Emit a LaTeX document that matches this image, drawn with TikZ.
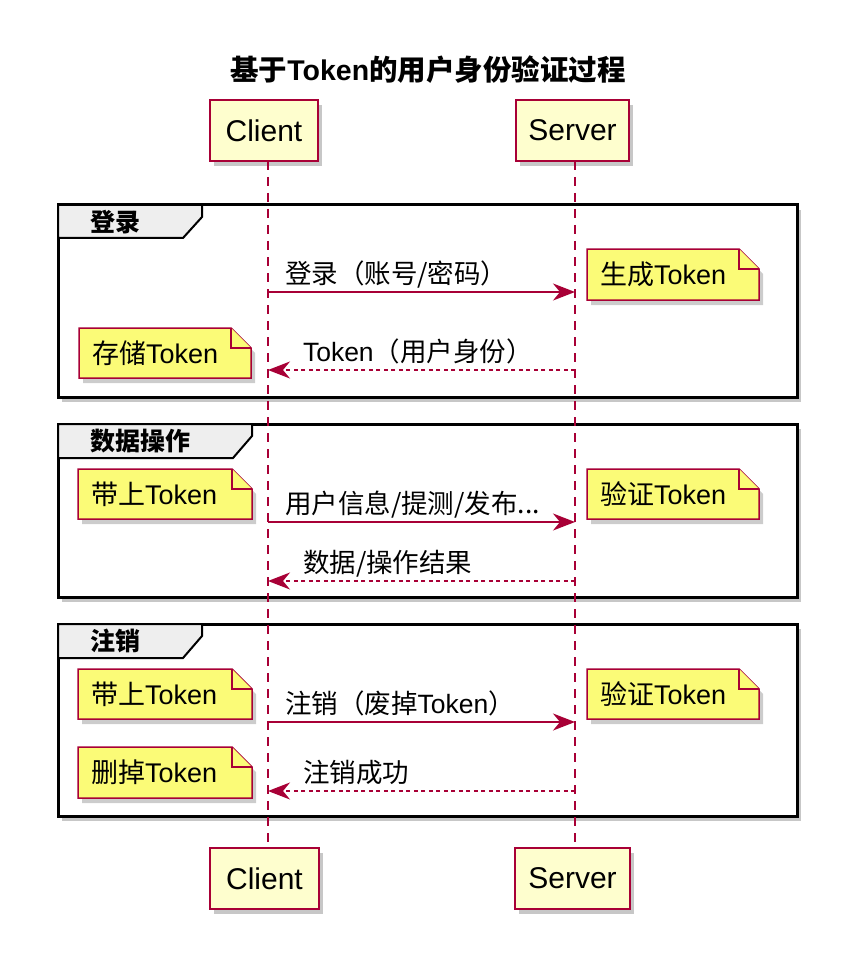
\documentclass[tikz,border=0pt]{standalone}
\usepackage{fontspec}
\setmainfont{Liberation Sans}
\newfontfamily\cjk{Noto Sans CJK SC}
\usetikzlibrary{arrows.meta,shadows}
\definecolor{umlred}{HTML}{A80036}
\definecolor{partfill}{HTML}{FEFECE}
\definecolor{notefill}{HTML}{FBFB77}
\definecolor{tabfill}{HTML}{EEEEEE}
\tikzset{
  softshadow/.style={drop shadow={shadow xshift=4pt, shadow yshift=-5pt, fill=black, opacity=0.22}},
  partbox/.style={draw=umlred, line width=1.6pt, fill=partfill, minimum height=61pt,
    font=\fontsize{30}{35}\selectfont, softshadow},
  lifeline/.style={draw=umlred, line width=1.5pt, dash pattern=on 9pt off 7pt},
  msg/.style={draw=umlred, line width=1.6pt, -{Stealth[length=22pt,width=17pt,inset=7pt]}},
  ret/.style={msg, dash pattern=on 4pt off 3.5pt},
  msglabel/.style={anchor=base west, font=\fontsize{26.5}{31}\selectfont},
  groupframe/.style={draw=black, line width=3pt, fill=white, softshadow},
  grouptab/.style={draw=black, line width=2pt, fill=tabfill},
  tablabel/.style={anchor=west, font=\fontsize{25}{30}\selectfont\bfseries},
  notebody/.style={draw=umlred, line width=1.5pt, fill=notefill},
  notetext/.style={anchor=west, font=\fontsize{27}{32}\selectfont},
}
\newcommand\notebox[6]{%
  \fill[black, opacity=0.2] (#2+4,#3+5) -- (#4-16,#3+5) -- (#4+4,#3+25) -- (#4+4,#5+5) -- (#2+4,#5+5) -- cycle;
  \filldraw[notebody] (#2,#3) -- (#4-20,#3) -- (#4,#3+20) -- (#4,#5) -- (#2,#5) -- cycle;
  \draw[notebody] (#4-20,#3) -- (#4-20,#3+20) -- (#4,#3+20);
  \node[notetext] (#1) at (#2+13,{(#3+#5)/2}) {#6};
}
\begin{document}
\begin{tikzpicture}[x=1pt,y=-1pt, every node/.style={inner sep=0pt, outer sep=0pt}]
\useasboundingbox[fill=white] (0,0) rectangle (860,968);

% title
\node[font=\fontsize{28.5}{33}\selectfont\bfseries] (title) at (428,70)
  {{\cjk 基于}Token{\cjk 的用户身份验证过程}};

% groups
\draw[groupframe] (58,205) rectangle (797,397);
\filldraw[grouptab] (58,205) -- (202,205) -- (202,217) -- (183,238) -- (58,238) -- cycle;
\node[tablabel] (g1) at (90,222) {\cjk 登录};

\draw[groupframe] (58,424) rectangle (797,597);
\filldraw[grouptab] (58,424) -- (252,424) -- (252,436) -- (233,458) -- (58,458) -- cycle;
\node[tablabel] (g2) at (90,441) {\cjk 数据操作};

\draw[groupframe] (58,624) rectangle (797,816);
\filldraw[grouptab] (58,624) -- (202,624) -- (202,636) -- (183,658) -- (58,658) -- cycle;
\node[tablabel] (g3) at (90,641) {\cjk 注销};

% participants
\node[partbox, minimum width=108pt] (ctop) at (264,130.5) {Client};
\node[partbox, minimum width=113pt] (stop) at (572.5,130.5) {Server};
\node[partbox, minimum width=109pt] (cbot) at (264.5,878.5) {Client};
\node[partbox, minimum width=115pt] (sbot) at (572.5,878.5) {Server};

\coordinate (CL) at (268,0);
\coordinate (SL) at (575,0);
\draw[lifeline] (ctop.south -| CL) -- (cbot.north -| CL);
\draw[lifeline] (stop.south -| SL) -- (sbot.north -| SL);

% messages
\coordinate (m1c) at (268,292); \coordinate (m1s) at (575,292);
\coordinate (r1c) at (268,370); \coordinate (r1s) at (575,370);
\coordinate (m2c) at (268,522); \coordinate (m2s) at (575,522);
\coordinate (r2c) at (268,581); \coordinate (r2s) at (575,581);
\coordinate (m3c) at (268,722); \coordinate (m3s) at (575,722);
\coordinate (r3c) at (268,791); \coordinate (r3s) at (575,791);

\draw[msg] (m1c) -- (m1s);
\draw[ret] (r1s) -- (r1c);
\draw[msg] (m2c) -- (m2s);
\draw[ret] (r2s) -- (r2c);
\draw[msg] (m3c) -- (m3s);
\draw[ret] (r3s) -- (r3c);

\node[msglabel] (l1) at (285,283) {\cjk 登录（账号/密码）};
\node[msglabel] (l2) at (303,361) {Token{\cjk （用户身份）}};
\node[msglabel] (l3) at (285,513) {\cjk 用户信息/提测/发布...};
\node[msglabel] (l4) at (303,572) {\cjk 数据/操作结果};
\node[msglabel] (l5) at (285,713) {{\cjk 注销（废掉}Token{\cjk ）}};
\node[msglabel] (l6) at (303,782) {\cjk 注销成功};

% notes
\notebox{n1}{587}{249}{759}{300}{{\cjk 生成}Token}
\notebox{n2}{79}{328}{251}{378}{{\cjk 存储}Token}
\notebox{n3}{78}{469}{252}{519}{{\cjk 带上}Token}
\notebox{n4}{587}{469}{759}{519}{{\cjk 验证}Token}
\notebox{n5}{78}{669}{252}{719}{{\cjk 带上}Token}
\notebox{n6}{587}{669}{759}{719}{{\cjk 验证}Token}
\notebox{n7}{78}{747}{252}{798}{{\cjk 删掉}Token}
\end{tikzpicture}
\end{document}
